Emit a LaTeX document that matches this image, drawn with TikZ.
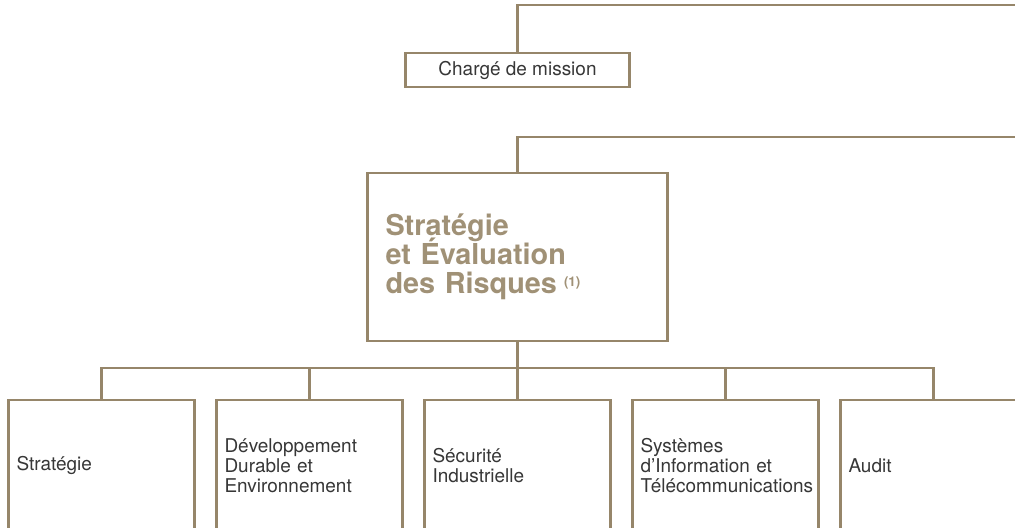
\documentclass[tikz,border=0pt]{standalone}
\usepackage{fontspec}
\setmainfont{TeX Gyre Heros}
\usetikzlibrary{positioning}

\definecolor{taupe}{RGB}{150,134,106}
\definecolor{titletext}{RGB}{160,145,118}
\definecolor{bodytext}{RGB}{55,55,55}
\newcommand{\titlefont}{\fontsize{20.5}{20.5}\selectfont\bfseries\lineskiplimit=-20pt\relax}

\tikzset{
  orgline/.style={draw=taupe, line width=2.1pt},
  orgbox/.style={orgline, fill=white, inner sep=0pt},
  unitbox/.style={orgbox, minimum width=4.65cm, minimum height=3.275cm,
    text width=4.25cm, inner xsep=0.2cm, align=left,
    font=\fontsize{13.5}{14.2}\selectfont, text=bodytext}
}

\begin{document}
\begin{tikzpicture}
\useasboundingbox (0,0) rectangle (25.375,-13.2);

% top row
\node[orgbox, minimum width=5.6cm, minimum height=0.85cm,
  font=\fontsize{13.5}{14.2}\selectfont, text=bodytext] (charge) at (12.9375,-1.75) {Chargé de mission};

\node[orgbox, minimum width=7.5cm, minimum height=4.2cm, text width=6.6cm,
  inner xsep=0.45cm, align=left, font=\titlefont,
  text=titletext] (risques) at (12.9375,-6.425)
  {Stratégie\\et Évaluation\\des Risques\hspace{5pt}\raisebox{5pt}{\fontsize{9.5}{10}\selectfont(1)}};

% units
\node[unitbox] (strat) at (2.5375,-11.6375) {Stratégie};
\node[unitbox] (ddenv) at (7.7375,-11.6375) {Développement\\Durable et\\Environnement};
\node[unitbox] (secu)  at (12.9375,-11.6375) {Sécurité\\Industrielle};
\node[unitbox] (sidt)  at (18.1375,-11.6375) {Systèmes\\d’Information et\\Télécommunications};
\node[unitbox] (audit) at (23.3375,-11.6375) {Audit};

% links
\coordinate (topend) at (25.6,-0.125);
\coordinate (midend) at (25.6,-3.425);
\coordinate (bus) at (12.9375,-9.2);

\draw[orgline] (charge.north) |- (topend);
\draw[orgline] (risques.north) |- (midend);
\draw[orgline] (risques.south) -- (bus);
\foreach \u in {strat,ddenv,secu,sidt,audit}
  \draw[orgline] (bus) -| (\u.north);
\end{tikzpicture}
\end{document}
